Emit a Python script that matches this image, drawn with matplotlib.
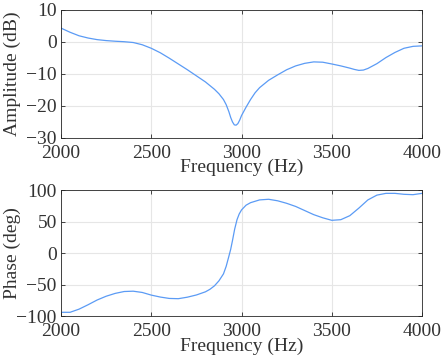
import matplotlib.pyplot as plt

freq_amp = [2000, 2050, 2100, 2150, 2200, 2250, 2300, 2350, 2400, 2450, 2500, 2550,
            2600, 2650, 2700, 2750, 2800, 2850, 2875, 2900, 2915, 2930, 2940, 2950,
            2960, 2970, 2980, 2990, 3000, 3025, 3050, 3075, 3100, 3150, 3200, 3250,
            3300, 3350, 3400, 3450, 3500, 3550, 3600, 3625, 3650, 3675, 3700, 3750,
            3800, 3850, 3900, 3950, 4000]
amp_db = [4.3, 3.0, 1.9, 1.2, 0.7, 0.4, 0.2, 0.05, -0.2, -0.9, -2.0, -3.4,
          -5.1, -6.9, -8.7, -10.6, -12.5, -14.8, -16.2, -18.0, -19.6, -21.8, -23.6, -25.0,
          -25.9, -26.0, -25.5, -24.4, -23.0, -20.4, -18.0, -15.9, -14.3, -12.0, -10.3, -8.7,
          -7.5, -6.7, -6.25, -6.35, -6.9, -7.5, -8.2, -8.6, -8.9, -8.8, -8.3, -6.8,
          -4.9, -3.3, -2.0, -1.4, -1.25]

freq_ph = [2000, 2050, 2100, 2150, 2200, 2250, 2300, 2350, 2400, 2450, 2500, 2550,
           2600, 2650, 2700, 2750, 2800, 2825, 2850, 2875, 2900, 2915, 2930, 2940,
           2950, 2962, 2975, 2987, 3000, 3025, 3050, 3100, 3150, 3200, 3250, 3300,
           3350, 3400, 3450, 3500, 3550, 3600, 3650, 3700, 3750, 3800, 3850, 3900,
           3950, 4000]
phase_deg = [-94, -94, -89, -82, -74.5, -68.5, -64, -61, -60.5, -62.5, -66.7, -69.8,
             -72, -72.4, -70, -66.5, -61.5, -57.5, -52, -44, -33, -21, -5, 6,
             20, 38, 53, 62, 68.5, 76, 80, 84.4, 85.4, 83, 79, 74,
             67.5, 61, 56, 52, 53, 59.4, 71.4, 84.4, 92, 94.8, 94.8, 93.3,
             92.7, 94.8]

plt.rcParams['font.family'] = ['Liberation Serif', 'DejaVu Serif']
plt.rcParams['font.size'] = 14

line_color = '#5b9bf5'
axis_color = '#262626'
text_color = '#333333'

fig = plt.figure(figsize=(4.43, 3.6), dpi=100)
ax1 = fig.add_axes([0.1377, 0.6167, 0.815, 0.356])
ax2 = fig.add_axes([0.1377, 0.122, 0.815, 0.35])

panels = [
    (ax1, freq_amp, amp_db, (-30, 10), [-30, -20, -10, 0, 10], 'Amplitude (dB)'),
    (ax2, freq_ph, phase_deg, (-100, 100), [-100, -50, 0, 50, 100], 'Phase (deg)'),
]

for ax, x, y, ylim, yticks, ylabel in panels:
    ax.plot(x, y, color=line_color, linewidth=0.9)
    ax.set_xlim(2000, 4000)
    ax.set_ylim(*ylim)
    ax.set_xticks([2000, 2500, 3000, 3500, 4000])
    ax.set_yticks(yticks)
    ax.grid(True, color='#e6e6e6', linewidth=0.8)
    ax.set_axisbelow(True)
    ax.tick_params(direction='in', length=3, width=0.6, colors=axis_color,
                   labelcolor=text_color, top=True, right=True)
    ax.tick_params(axis='x', pad=5)
    ax.tick_params(axis='y', pad=3)
    for s in ax.spines.values():
        s.set_color(axis_color)
        s.set_linewidth(0.6)
    ax.set_xlabel('Frequency (Hz)', color=text_color, labelpad=-2)
    ax.set_ylabel(ylabel, color=text_color)
    ax.yaxis.set_label_coords(-0.11, 0.5)

fig.savefig('out.png', dpi=100)
